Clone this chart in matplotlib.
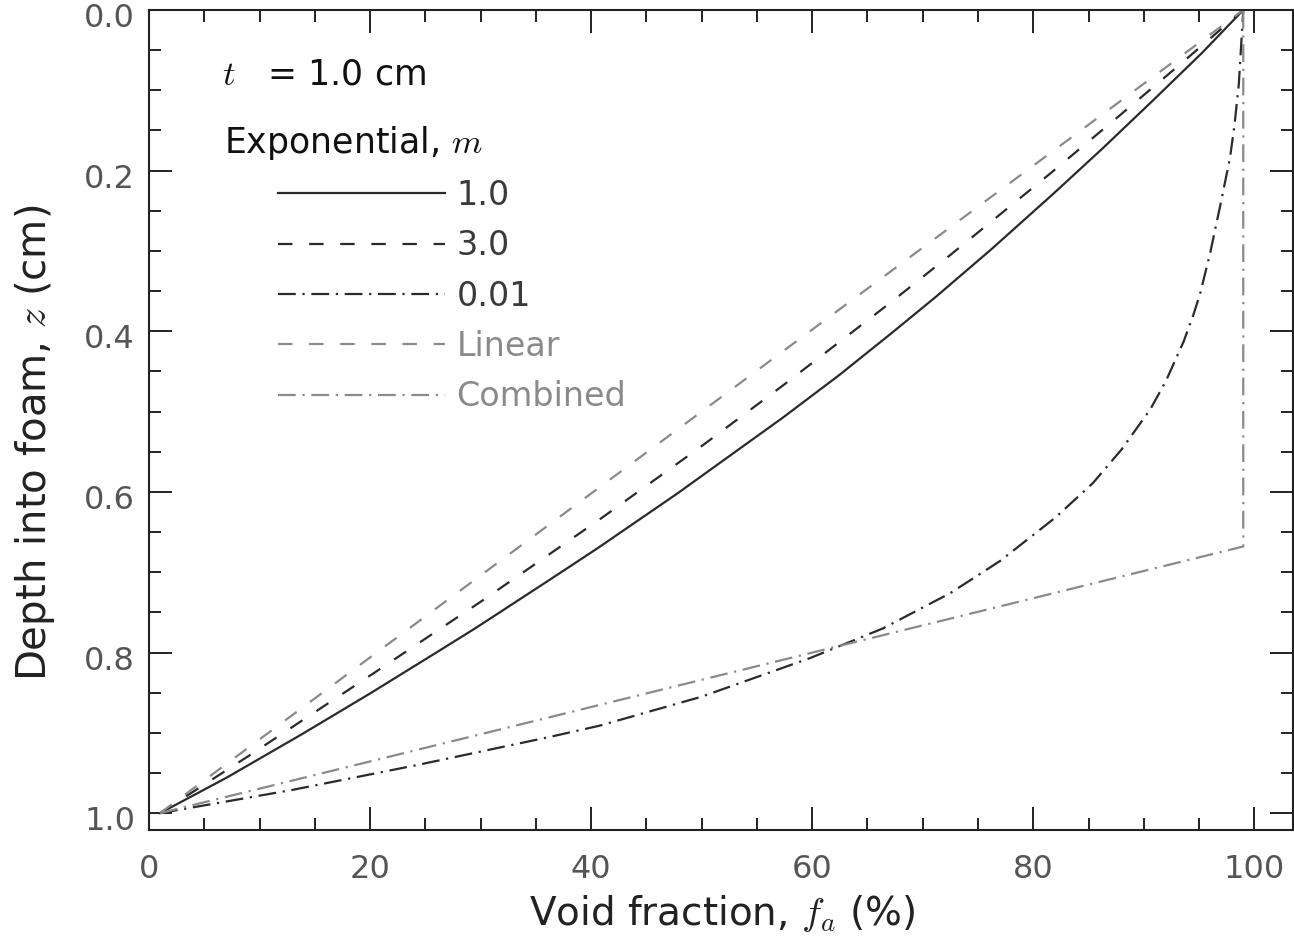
import matplotlib
matplotlib.use("Agg")
import matplotlib.pyplot as plt
import matplotlib.transforms as mtransforms

plt.rcParams['font.family'] = ['DejaVu Sans']
plt.rcParams['mathtext.fontset'] = 'cm'

# values (void fraction in %, depth in cm)
m1_x = [1.0, 7.0, 13.8, 20.0, 26.0, 29.5, 36.3, 40.6, 47.8, 57.4, 62.5, 67.3,
        71.2, 76.2, 81.8, 86.3, 90.8, 95.3, 99.0]
m1_z = [1.0, 0.956, 0.902, 0.851, 0.800, 0.770, 0.709, 0.670, 0.602, 0.507, 0.454, 0.401,
        0.357, 0.298, 0.229, 0.172, 0.113, 0.053, 0.0]

m3_x = [1.0, 9.1, 20.3, 30.2, 40.8, 50.0, 57.4, 67.3, 72.5, 81.5, 87.5, 93.6, 99.0]
m3_z = [1.0, 0.928, 0.826, 0.735, 0.634, 0.543, 0.467, 0.362, 0.305, 0.204, 0.135, 0.064, 0.0]

m001_x = [1.0, 13.0, 24.3, 36.3, 40.8, 50.0, 59.8, 66.4, 72.5, 77.0, 82.0, 85.4, 88.0,
          90.6, 92.0, 93.6, 94.5, 95.1, 96.0, 97.0, 97.8, 98.2, 98.6, 99.0]
m001_z = [1.0, 0.971, 0.940, 0.905, 0.891, 0.855, 0.807, 0.770, 0.726, 0.686, 0.632, 0.589, 0.547,
          0.497, 0.462, 0.413, 0.379, 0.353, 0.303, 0.238, 0.184, 0.144, 0.092, 0.0]

lin_x = [1.0, 99.0]
lin_z = [1.0, 0.0]

comb_x = [1.0, 99.0, 99.0]
comb_z = [1.0, 0.668, 0.0]

labels = ['1.0', '3.0', '0.01', 'Linear', 'Combined']

dark = '#2a2a2a'
grey = '#8a8a8a'
dash = (6.5, 7.5)
dashdot = (8, 3, 1, 3)

fig = plt.figure(figsize=(12.94, 9.42), dpi=100)
ax = fig.add_axes([149 / 1294, 1 - 830 / 942, 1144 / 1294, 820 / 942])

ax.plot(m1_x, m1_z, color=dark, lw=1.6, label=labels[0])
ax.plot(m3_x, m3_z, color=dark, lw=1.6, dashes=dash, label=labels[1])
ax.plot(m001_x, m001_z, color=dark, lw=1.6, dashes=dashdot, label=labels[2])
ax.plot(lin_x, lin_z, color=grey, lw=1.6, dashes=dash, label=labels[3])
ax.plot(comb_x, comb_z, color=grey, lw=1.6, dashes=dashdot, label=labels[4])

ax.set_xlim(0, 103.5)
ax.set_ylim(1.021, 0)
ax.set_xticks([0, 20, 40, 60, 80, 100])
ax.set_xticks(range(5, 105, 5), minor=True)
ax.set_yticks([0.0, 0.2, 0.4, 0.6, 0.8, 1.0])
ax.set_yticks([i * 0.05 for i in range(21)], minor=True)
ax.set_yticklabels(['0.0', '0.2', '0.4', '0.6', '0.8', '1.0'])

ax.tick_params(which='both', direction='in', top=True, right=True,
               width=1.4, color='#222222', labelcolor='#555555', labelsize=23)
ax.tick_params(which='major', length=16.5)
ax.tick_params(which='minor', length=8.5)
ax.tick_params(axis='x', pad=17)
ax.tick_params(axis='y', pad=10)
for s in ax.spines.values():
    s.set_linewidth(1.5)
    s.set_color('#222222')

# y tick labels sit a little below their ticks in the original
shift = mtransforms.ScaledTranslation(0, -5 / 100, fig.dpi_scale_trans)
for lab in ax.get_yticklabels():
    lab.set_transform(lab.get_transform() + shift)

ax.set_xlabel('Void fraction, $f_a$ (%)', fontsize=28, color='#222222')
ax.set_ylabel('Depth into foam, $z$ (cm)', fontsize=29, color='#222222')
ax.xaxis.set_label_coords(0.501, -0.077)
ax.yaxis.set_label_coords(-0.080, 0.472)

ax.text(0.064, 0.921, '$t$   = 1.0 cm', transform=ax.transAxes, fontsize=25,
        va='center', ha='left', color='#111111')
ax.text(0.0656, 0.838, 'Exponential, $m$', transform=ax.transAxes, fontsize=25,
        va='center', ha='left', color='#111111')

leg = ax.legend(loc='upper left', bbox_to_anchor=((278 - 149) / 1144, (830 - 179) / 820),
                frameon=False, fontsize=24, handlelength=5.0, handletextpad=0.35,
                labelspacing=0.52, borderpad=0, borderaxespad=0)
for t, c in zip(leg.get_texts(), ['#3a3a3a', '#3a3a3a', '#3a3a3a', grey, grey]):
    t.set_color(c)

fig.savefig('out.png', dpi=100)
